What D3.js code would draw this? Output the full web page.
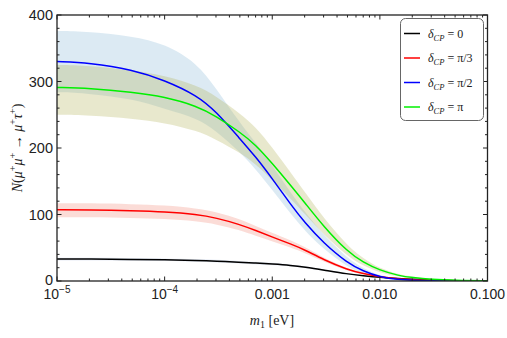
<!DOCTYPE html>
<html>
<head>
<meta charset="utf-8" />
<title>N vs m1</title>
<script type="text/javascript" src="https://cdn.jsdelivr.net/npm/d3@7/dist/d3.min.js"></script>
<style>
body { margin: 0; background: #fff; }
svg text { font-family: "Liberation Sans", Arial, sans-serif; }
.serif { font-family: "Liberation Serif", "Times New Roman", serif !important; }
</style>
</head>
<body>
<div id="chart"></div>
<script>
// m1 grid [eV]
var m1 = [1e-5, 2e-5, 5e-5, 1e-4, 2e-4, 3e-4, 5e-4, 7e-4, 1e-3, 1.5e-3, 2e-3, 3e-3, 5e-3, 7e-3, 1e-2, 1.5e-2, 2e-2, 3e-2, 5e-2, 1e-1];

// delta_CP = 0
var black = [33, 33, 32.5, 32, 31, 30, 28, 27, 25.5, 23.5, 21, 16.5, 10.5, 8, 5.5, 3.5, 2.5, 1.2, 0.5, 0.1];
var blackHi = [35, 35, 34.5, 34, 33, 32, 30, 29, 27.5, 25, 22.5, 17.5, 11.5, 8.6, 6, 3.8, 2.7, 1.3, 0.5, 0.1];
var blackLo = [31, 31, 30.5, 30, 29, 28, 26, 25, 23.5, 22, 19.5, 15.5, 9.5, 7.4, 5, 3.2, 2.3, 1.1, 0.5, 0.1];
// delta_CP = pi/3
var red = [107, 107, 105.5, 104, 100, 95, 85, 76, 66, 55.5, 47, 32, 17, 11, 6, 3, 2, 1, 0.4, 0.1];
var redHi = [117, 117, 115.5, 114, 109, 104, 93, 83, 72, 61, 51.5, 35, 18.5, 12, 6.6, 3.3, 2.2, 1.1, 0.45, 0.1];
var redLo = [96, 96, 95, 93.5, 90, 85.5, 76.5, 68, 59.5, 50, 42.5, 29, 15.3, 10, 5.4, 2.7, 1.8, 0.9, 0.35, 0.1];
// delta_CP = pi/2
var blue = [330, 328, 318, 302, 279, 255, 214, 187, 154, 114, 88, 57, 27, 15, 6, 2, 1, 0.3, 0, 0];
var blueHi = [376, 375, 368, 357, 328, 290, 238, 208, 174, 132, 104, 69, 34, 19, 8, 3, 1.5, 0.5, 0.1, 0];
var blueLo = [284, 282, 274, 259, 245, 226, 194, 168, 137, 100, 76, 48, 21, 11, 4, 1.3, 0.6, 0.2, 0, 0];
// delta_CP = pi
var green = [291, 290, 284, 277, 263, 248, 224, 205, 177, 143, 118, 82, 44, 28, 16, 8, 5, 2.5, 1, 0.3];
var greenHi = [325, 324, 317, 309, 294, 278, 252, 232, 201, 162, 134, 95, 53, 34, 19, 10, 6.5, 3.3, 1.3, 0.4];
var greenLo = [250, 249, 244, 238, 226, 213, 193, 176, 152, 123, 101, 70, 37, 23, 12.5, 6.5, 4, 2, 0.8, 0.2];

var xTicks = [1e-5, 1e-4, 1e-3, 1e-2, 1e-1];
var xTickLabels = [["10", "\u22125"], ["10", "\u22124"], ["0.001"], ["0.010"], ["0.100"]];
var yTicks = [0, 100, 200, 300, 400];
var legendLabels = ["0", "\u03c0/3", "\u03c0/2", "\u03c0"];

var series = [
	{ y: black, hi: blackHi, lo: blackLo, color: "#000000", band: "rgb(120,150,200)", op: 0.18 },
	{ y: red, hi: redHi, lo: redLo, color: "#ff0000", band: "rgb(240,120,100)", op: 0.26 },
	{ y: blue, hi: blueHi, lo: blueLo, color: "#0000ff", band: "rgb(140,185,215)", op: 0.3 },
	{ y: green, hi: greenHi, lo: greenLo, color: "#00f000", band: "rgb(180,180,90)", op: 0.3 }
];

const width = 507, height = 338;
const margin = { top: 15, right: 19.5, bottom: 57, left: 57 };

const svg = d3.select("#chart").append("svg")
	.attr("width", width)
	.attr("height", height);

var x = d3.scaleLog().domain([1e-5, 0.1]).range([margin.left, width - margin.right]);
var y = d3.scaleLinear().domain([0, 400]).range([height - margin.bottom, margin.top]);

var plot = svg.append("g");
plot.append("clipPath").attr("id", "clip")
	.append("rect")
	.attr("x", x.range()[0]).attr("y", y.range()[1])
	.attr("width", x.range()[1] - x.range()[0])
	.attr("height", y.range()[0] - y.range()[1]);

var area = d3.area()
	.x(function (d, i) { return x(m1[i]); })
	.y0(function (d) { return y(d[0]); })
	.y1(function (d) { return y(d[1]); })
	.curve(d3.curveBasis);
var line = d3.line()
	.x(function (d, i) { return x(m1[i]); })
	.y(function (d) { return y(d); })
	.curve(d3.curveBasis);

var g = plot.append("g").attr("clip-path", "url(#clip)");
series.forEach(function (s) {
	g.append("path")
		.attr("d", area(s.lo.map(function (v, i) { return [v, s.hi[i]]; })))
		.attr("fill", s.band)
		.attr("fill-opacity", s.op);
});
series.forEach(function (s) {
	g.append("path")
		.attr("d", line(s.y))
		.attr("fill", "none")
		.attr("stroke", s.color)
		.attr("stroke-width", 1.5);
});

// frame with inward ticks on all four sides
var x0 = x.range()[0], x1 = x.range()[1], y0 = y.range()[0], y1 = y.range()[1];
var minorX = [];
for (var e = -5; e < -1; e++) {
	for (var k = 2; k <= 9; k++) minorX.push(k * Math.pow(10, e));
}
var minorY = d3.range(20, 400, 20).filter(function (v) { return v % 100 !== 0; });

var ticks = svg.append("g").attr("stroke", "#222").attr("stroke-width", 1);
function tickX(v, len) {
	ticks.append("line").attr("x1", x(v)).attr("x2", x(v)).attr("y1", y0).attr("y2", y0 - len);
	ticks.append("line").attr("x1", x(v)).attr("x2", x(v)).attr("y1", y1).attr("y2", y1 + len);
}
function tickY(v, len) {
	ticks.append("line").attr("x1", x0).attr("x2", x0 + len).attr("y1", y(v)).attr("y2", y(v));
	ticks.append("line").attr("x1", x1).attr("x2", x1 - len).attr("y1", y(v)).attr("y2", y(v));
}
xTicks.forEach(function (v) { tickX(v, 4.5); });
minorX.forEach(function (v) { tickX(v, 2.5); });
yTicks.forEach(function (v) { tickY(v, 4.5); });
minorY.forEach(function (v) { tickY(v, 2.5); });

svg.append("rect")
	.attr("x", x0).attr("y", y1)
	.attr("width", x1 - x0).attr("height", y0 - y1)
	.attr("fill", "none")
	.attr("stroke", "#222")
	.attr("stroke-width", 1.3);

// tick labels
xTicks.forEach(function (v, i) {
	var t = svg.append("text")
		.attr("x", x(v)).attr("y", 299)
		.attr("text-anchor", "middle")
		.attr("font-size", 14)
		.attr("fill", "#222");
	t.append("tspan").text(xTickLabels[i][0]);
	if (xTickLabels[i][1]) {
		t.append("tspan").attr("dy", -6).attr("font-size", 10).text(xTickLabels[i][1]);
	}
});
yTicks.forEach(function (v) {
	svg.append("text")
		.attr("x", 53).attr("y", y(v) + (v === 0 ? 4 : 5))
		.attr("text-anchor", "end")
		.attr("font-size", 14.5)
		.attr("fill", "#222")
		.text(v);
});

// axis titles
var xl = svg.append("text").attr("class", "serif")
	.attr("x", 272).attr("y", 325)
	.attr("text-anchor", "middle")
	.attr("font-size", 14)
	.attr("fill", "#222");
xl.append("tspan").attr("font-style", "italic").text("m");
xl.append("tspan").attr("font-size", 10).attr("dy", 3).text("1");
xl.append("tspan").attr("dy", -3).text(" [eV]");

var yl = svg.append("text").attr("class", "serif")
	.attr("transform", "translate(22,148) rotate(-90)")
	.attr("text-anchor", "middle")
	.attr("font-size", 14)
	.attr("fill", "#222");
yl.append("tspan").attr("font-style", "italic").text("N");
yl.append("tspan").text("(");
[["\u03bc", "+"], ["\u03bc", "+"], [" \u2192 ", null], ["\u03bc", "+"], ["\u03c4", "+"]].forEach(function (p) {
	if (p[1] === null) {
		yl.append("tspan").text(p[0]);
	} else {
		yl.append("tspan").attr("font-style", "italic").text(p[0]);
		yl.append("tspan").attr("font-size", 10).attr("dy", -6).text(p[1]);
		yl.append("tspan").attr("font-size", 1).attr("dy", 6).text("\u200a");
	}
});
yl.append("tspan").text(")");

// legend
var lg = svg.append("g");
lg.append("rect")
	.attr("x", 400.5).attr("y", 18.5)
	.attr("width", 83).attr("height", 102)
	.attr("rx", 5)
	.attr("fill", "#fff")
	.attr("stroke", "#666")
	.attr("stroke-width", 1);
series.forEach(function (s, i) {
	var ly = 33.5 + i * 24.5;
	lg.append("line")
		.attr("x1", 404).attr("x2", 420)
		.attr("y1", ly).attr("y2", ly)
		.attr("stroke", s.color)
		.attr("stroke-width", 1.5);
	var t = lg.append("text").attr("class", "serif")
		.attr("x", 428).attr("y", ly + 4)
		.attr("font-size", 12)
		.attr("fill", "#222");
	t.append("tspan").attr("font-style", "italic").text("\u03b4");
	t.append("tspan").attr("font-style", "italic").attr("font-size", 8.5).attr("dy", 3).text("CP");
	t.append("tspan").attr("dy", -3).text(" = " + legendLabels[i]);
});
</script>
</body>
</html>
